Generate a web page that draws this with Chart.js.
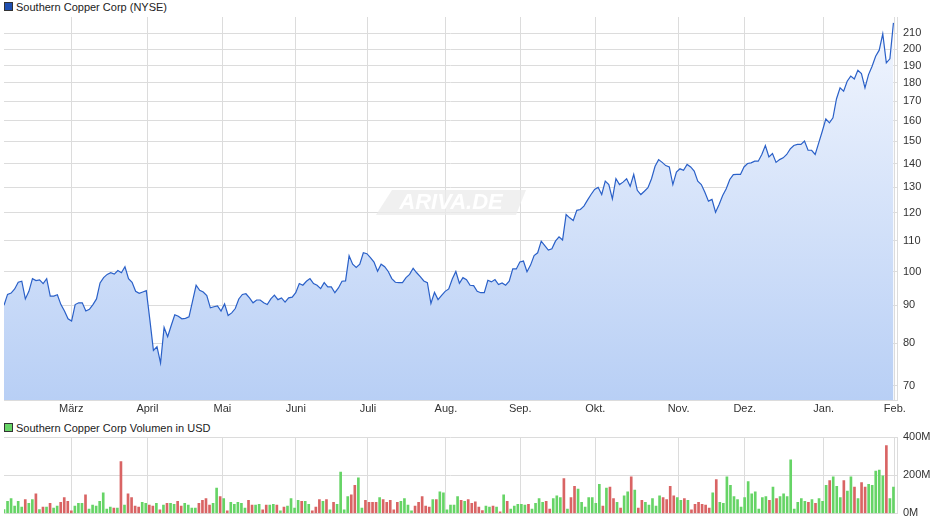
<!DOCTYPE html>
<html>
<head>
    <meta charset="utf-8">
    <title>Southern Copper Corp</title>
    <script src="https://cdn.jsdelivr.net/npm/chart.js@4/dist/chart.umd.min.js"></script>
    <style>
        body { margin: 0; padding: 0; background: #fff; font-family: "Liberation Sans", Arial, sans-serif; }
        .wrap { position: relative; width: 940px; height: 526px; }
        canvas { position: absolute; left: 0; }
        .leg { position: absolute; left: 4px; font-size: 11px; color: #222; line-height: 12px; }
        .leg span { display: inline-block; width: 7px; height: 7px; border: 1px solid #333; margin-right: 3px; vertical-align: 0px; }
    </style>
</head>
<body>
<div class="wrap">
    <div class="leg" style="top:1px"><span style="background:#1f4fb0"></span>Southern Copper Corp (NYSE)</div>
    <canvas id="priceChart" width="940" height="420" style="top:0"></canvas>
    <div class="leg" style="top:422px"><span style="background:#66d466"></span>Southern Copper Corp Volumen in USD</div>
    <canvas id="volChart" width="940" height="106" style="top:420px"></canvas>
</div>
<script>
// Monatsnamen und ihre Position (Handelstag-Index)
const MONTHS = ['März', 'April', 'Mai', 'Juni', 'Juli', 'Aug.', 'Sep.', 'Okt.', 'Nov.', 'Dez.', 'Jan.', 'Feb.'];
const MONTH_POS = [18.9, 40.3, 61.4, 82, 102.3, 124.2, 145.1, 166.2, 189.6, 208.2, 230.4, 250.4];
const PRICE_TICKS = [70, 80, 90, 100, 110, 120, 130, 140, 150, 160, 170, 180, 190, 200, 210];
const VOL_TICKS = [0, 200, 400];

// Schlusskurse (USD)
const prices = [
    90, 93.1, 93.5, 94.7, 96.7, 97, 91.8, 94, 97.8, 97.2,
    97.4, 96.3, 97.8, 92.6, 92.6, 93.0, 90.2, 88.4, 86.3, 85.7,
    90.2, 90.7, 90.7, 88.4, 88.9, 90.2, 91.8, 96.5, 98.1, 99.1,
    99.6, 99.2, 100.3, 99.6, 101.5, 97.8, 96.7, 94, 93.4, 93.8,
    94.2, 86, 78.2, 79.1, 75.2, 84, 81.6, 84.5, 87.4, 87,
    86.3, 86.4, 86.8, 91.2, 95.8, 94.3, 93.8, 92.8, 89.3, 89.6,
    89.8, 88.4, 90.4, 87.2, 87.9, 89.1, 91.8, 93.1, 93.3, 92.1,
    90.7, 91.5, 91.5, 90.7, 90.2, 91.8, 92.9, 91.6, 92.1, 90.9,
    92.1, 92.3, 93.6, 96.3, 95.8, 97, 97.8, 96.3, 95.8, 94.8,
    96.6, 95.3, 95.3, 93.6, 95, 97, 97.1, 105, 102.3, 101.3,
    102.3, 106, 105.7, 104.4, 103, 100.1, 102.3, 101.5, 100, 97.8,
    96.7, 96.6, 96.6, 98.1, 99.1, 101, 99.6, 98.4, 97.1, 96.6,
    90.5, 93.7, 91.6, 92.8, 94, 94.7, 97.7, 100, 96.4, 98.1,
    97.5, 95.8, 95.7, 94.0, 93.6, 93.6, 97.3, 96.8, 97.5, 96.0,
    96.5, 95.8, 97.0, 100.8, 100.8, 103.0, 103.3, 99.9, 102.0, 105.1,
    106.0, 109.9, 108.4, 106.9, 107.3, 109.9, 111.4, 110.3, 119.4, 118.2,
    117.2, 121.0, 121.3, 122.6, 124.9, 127.1, 129.1, 130.0, 127.1, 132.5,
    131.1, 125.4, 133.5, 131.1, 132.1, 133.5, 130.4, 135.3, 128.8, 127.1,
    128.4, 129.8, 133.5, 138.8, 141.7, 140.5, 139.1, 138.5, 131.1, 136.3,
    137.7, 137.1, 139.6, 138.5, 136.7, 132.5, 131.1, 128.0, 124.5, 125.2,
    120.3, 123.2, 126.7, 129.4, 133.2, 135.2, 135.3, 135.3, 138.5, 140.0,
    140.3, 141.0, 141.0, 144.0, 148.1, 142.9, 144.4, 140.5, 141.7, 142.5,
    144.0, 146.5, 148.1, 148.6, 148.6,
    150.1, 145.9, 145.9, 144.0, 149.3, 154.8, 160.9, 158.9, 161.4, 171.3,
    177.2, 175.4, 180.9, 183.8, 182.2, 187.2, 185.3, 177.2, 184.7, 189.6,
    195.6, 199.3, 209.7, 191.6, 194.0, 217.0
];

// Handelsvolumen (Mio. USD)
const volumes = [
    19.8, 62.8, 77.7, 38, 62.8, 33, 72.7, 52.9, 72.7, 102.5,
    19.8, 33, 33, 52.9, 28.1, 38, 57.9, 82.6, 62.8, 13.2,
    38, 52.9, 52.9, 97.5, 23.1, 43, 38, 62.8, 107.4, 23.1,
    33, 28.1, 28.1, 271, 43, 102.5, 82.6, 38, 33, 57.9,
    52.9, 43, 38, 52.9, 18.2, 43, 52.9, 52.9, 47.9, 62.8,
    38, 52.9, 43, 28.1, 28.1, 52.9, 67.8, 77.7, 43, 52.9,
    132, 87.6, 77.7, 13.2, 57.9, 47.9, 57.9, 52.9, 28.1, 67.8,
    43, 43, 47.9, 18.2, 43, 43, 47.9, 43, 13.2, 33,
    38, 77.7, 28.1, 67.8, 62.8, 62.8, 47.9, 13.2, 33, 72.7,
    62.8, 72.7, 18.2, 57.9, 47.9, 216.5, 18.2, 87.6, 97.5, 147,
    186.8, 28.1, 67.8, 57.9, 57.9, 57.9, 82.6, 72.7, 57.9, 67.8,
    18.2, 57.9, 62.8, 77.7, 43, 13.2, 38, 57.9, 87.6, 38,
    33, 72.7, 72.7, 112.4, 107.4, 18.2, 43, 43, 87.6, 67.8,
    62.8, 72.7,
    52.9, 61.2, 33, 14.9, 38, 33, 38, 33, 8.3, 97.5,
    62.8, 23.1, 38, 47.9, 47.9, 43, 47.9, 23.1, 52.9, 77.7,
    57.9, 62.8, 23.1, 77.7, 92.6, 82.6, 181.8, 23.1, 82.6, 142.2,
    127.3, 57.9, 33, 82.6, 82.6, 52.9, 152.1, 38, 132.2, 137.2,
    77.7, 57.9, 28.1, 92.6, 112.4, 191.7, 122.3, 28.1, 67.8, 57.9,
    43, 77.7, 38, 92.6, 82.6, 72.7, 142.2, 92.6, 82.6, 67.8,
    77.7, 67.8, 18.2, 47.9, 57.9, 47.9, 43, 28.1, 107.4, 176.9,
    57.9, 52.9, 191.7, 147.1, 87.6, 72.7, 33, 82.6, 167, 102.5,
    112.4, 23.1, 82.6, 87.6, 67.8, 137.2, 77.7, 87.6, 102.5, 87.6,
    281, 23.1, 57.9, 77.7, 62.8, 57.9, 72.7, 52.9, 77.7, 62.8,
    147.1, 171.9, 191.7, 142.2, 82.6, 171.9, 117.4, 191.7, 137.2, 77.7,
    162, 137.2, 152.1, 147.1, 221.5, 226.5, 196.7, 355.4, 77.7, 137.2
];

const FONT = { family: '"Liberation Sans", Arial, sans-serif', size: 11 };
const GRID = '#dcdcdc';
const PLOT_RIGHT = 43;

const priceMax = prices.length - 1;
const volMax = volumes.length - 1;

// Farbe je nach Kursveränderung
const volColors = volumes.map((v, j) => {
    const i = Math.round(j * priceMax / volMax);
    return (i > 0 && prices[i] < prices[i - 1]) ? '#d96464' : '#66d466';
});

const watermark = {
    id: 'watermark',
    beforeDatasetsDraw(chart) {
        const c = chart.ctx;
        c.save();
        c.fillStyle = 'rgba(235,235,235,0.75)';
        c.beginPath();
        c.moveTo(392, 190); c.lineTo(526, 190); c.lineTo(516, 215); c.lineTo(376, 215);
        c.closePath(); c.fill();
        c.font = 'italic bold 22px "Liberation Sans", Arial, sans-serif';
        c.fillStyle = '#ffffff';
        c.textAlign = 'center'; c.textBaseline = 'middle';
        c.fillText('ARIVA.DE', 451, 203);
        c.restore();
    }
};

new Chart(document.getElementById('priceChart'), {
    type: 'line',
    data: {
        datasets: [{
            data: prices.map((p, i) => ({ x: i, y: p })),
            borderColor: '#2a60c8',
            borderWidth: 1.2,
            pointRadius: 0,
            tension: 0,
            fill: 'start',
            backgroundColor: (ctx) => {
                const a = ctx.chart.chartArea;
                if (!a) return '#d0e0fa';
                const g = ctx.chart.ctx.createLinearGradient(0, a.top, 0, a.bottom);
                g.addColorStop(0, '#f2f6fe');
                g.addColorStop(1, '#b8cff5');
                return g;
            }
        }]
    },
    options: {
        responsive: false,
        animation: false,
        layout: { padding: { top: 17, left: 4 } },
        plugins: { legend: { display: false }, tooltip: { enabled: false } },
        scales: {
            x: {
                type: 'linear', min: 0, max: priceMax + 1,
                afterBuildTicks: (axis) => { axis.ticks = MONTH_POS.map(v => ({ value: v })); },
                afterFit: (axis) => { axis.height = 20; },
                ticks: { autoSkip: false, maxRotation: 0, color: '#333', font: FONT, padding: 2,
                    callback: (v, i) => MONTHS[i] },
                grid: { color: GRID, drawTicks: false },
                border: { color: GRID }
            },
            y: {
                type: 'logarithmic', position: 'right', min: 67, max: 221,
                afterBuildTicks: (axis) => { axis.ticks = PRICE_TICKS.map(v => ({ value: v })); },
                afterFit: (axis) => { axis.width = PLOT_RIGHT; },
                ticks: { color: '#333', font: FONT, padding: 6, callback: (v) => v },
                grid: { color: GRID, drawTicks: false },
                border: { color: GRID }
            }
        }
    },
    plugins: [watermark]
});

new Chart(document.getElementById('volChart'), {
    type: 'bar',
    data: {
        datasets: [{
            data: volumes.map((v, i) => ({ x: i, y: v })),
            backgroundColor: volColors,
            barThickness: 2
        }]
    },
    options: {
        responsive: false,
        animation: false,
        layout: { padding: { top: 17, left: 4, bottom: 9 } },
        plugins: { legend: { display: false }, tooltip: { enabled: false } },
        scales: {
            x: {
                type: 'linear', min: 0, max: volMax + 1, offset: false,
                afterBuildTicks: (axis) => { axis.ticks = MONTH_POS.map(v => ({ value: v * volMax / priceMax })); },
                ticks: { display: false },
                grid: { color: GRID, drawTicks: false, offset: false },
                border: { color: GRID }
            },
            y: {
                position: 'right', min: 0, max: 400,
                afterBuildTicks: (axis) => { axis.ticks = VOL_TICKS.map(v => ({ value: v })); },
                afterFit: (axis) => { axis.width = PLOT_RIGHT; },
                ticks: { color: '#333', font: FONT, padding: 6, callback: (v) => v + 'M' },
                grid: { color: GRID, drawTicks: false },
                border: { color: GRID }
            }
        }
    }
});
</script>
</body>
</html>
